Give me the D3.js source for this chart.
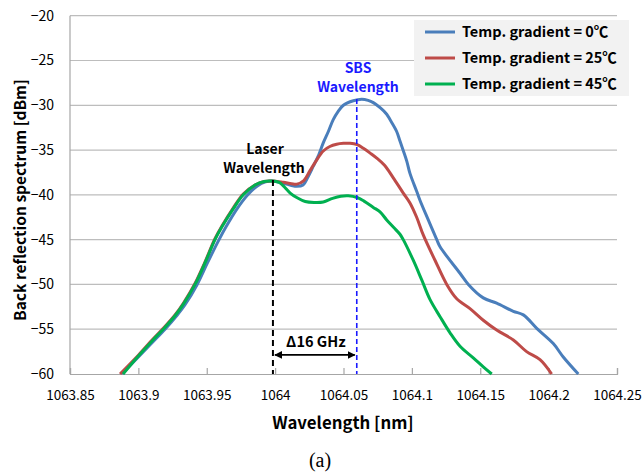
<!DOCTYPE html>
<html>
<head>
<meta charset="utf-8">
<script src="https://cdn.jsdelivr.net/npm/d3@7"></script>
<style>
  html, body { margin: 0; padding: 0; background: #fff; }
  svg { display: block; }
  text { font-family: "Noto Sans CJK KR", "Noto Sans", sans-serif; }
</style>
</head>
<body>
<svg id="chart" width="643" height="474"></svg>
<script>
// ---- data ----
const xTicks = [1063.85, 1063.9, 1063.95, 1064, 1064.05, 1064.1, 1064.15, 1064.2, 1064.25];
const yTicks = [-60, -55, -50, -45, -40, -35, -30, -25, -20];
const seriesNames = ["Temp. gradient = 0℃", "Temp. gradient = 25℃", "Temp. gradient = 45℃"];

const blueX = [1063.8880,1063.9000,1063.9107,1063.9195,1063.9280,1063.9340,1063.9430,1063.9505,1063.9590,1063.9640,1063.9720,1063.9800,1063.9870,1063.9930,1063.9977,1064.0060,1064.0120,1064.0158,1064.0204,1064.0240,1064.0279,1064.0320,1064.0352,1064.0390,1064.0425,1064.0460,1064.0499,1064.0572,1064.0633,1064.0680,1064.0718,1064.0770,1064.0816,1064.0840,1064.0888,1064.0913,1064.0962,1064.0986,1064.1035,1064.1059,1064.1120,1064.1182,1064.1206,1064.1352,1064.1413,1064.1522,1064.1620,1064.1742,1064.1815,1064.1913,1064.2034,1064.2107,1064.2217];
const blueY = [-60,-58.1,-56.4,-55.0,-53.5,-52.3,-50.0,-47.6,-45.0,-43.6,-41.6,-40.0,-39.0,-38.55,-38.45,-38.7,-38.95,-39.05,-38.9,-38.0,-36.8,-35.5,-34.2,-32.9,-31.6,-30.7,-30.0,-29.5,-29.33,-29.45,-29.7,-30.3,-31.0,-31.6,-32.9,-34.0,-36.2,-37.6,-39.6,-40.6,-42.8,-45.0,-45.8,-48.75,-50.0,-51.5,-52.1,-53.0,-53.4,-54.9,-56.6,-58.1,-60];

const redX = [1063.8866,1063.9000,1063.9107,1063.9182,1063.9268,1063.9329,1063.9414,1063.9487,1063.9560,1063.9610,1063.9692,1063.9767,1063.9853,1063.9920,1063.9977,1064.0060,1064.0120,1064.0158,1064.0210,1064.0255,1064.0300,1064.0352,1064.0400,1064.0450,1064.0500,1064.0548,1064.0600,1064.0645,1064.0700,1064.0743,1064.0800,1064.0864,1064.0937,1064.0986,1064.1035,1064.1084,1064.1169,1064.1255,1064.1328,1064.1425,1064.1522,1064.1620,1064.1742,1064.1839,1064.1937,1064.2022];
const redY = [-60,-57.9,-56.1,-54.9,-53.4,-52.1,-49.9,-47.5,-44.9,-43.5,-41.5,-39.9,-38.9,-38.5,-38.45,-38.6,-38.75,-38.8,-38.4,-37.3,-36.2,-35.1,-34.6,-34.35,-34.25,-34.24,-34.4,-34.8,-35.4,-35.9,-36.7,-38.1,-39.8,-40.9,-42.5,-44.5,-47.3,-50.0,-51.6,-52.7,-54.0,-55.1,-56.2,-57.5,-58.4,-60];

const greenX = [1063.8888,1063.9000,1063.9107,1063.9182,1063.9268,1063.9329,1063.9414,1063.9487,1063.9560,1063.9610,1063.9692,1063.9767,1063.9853,1063.9920,1063.9977,1064.0030,1064.0060,1064.0110,1064.0158,1064.0220,1064.0290,1064.0352,1064.0420,1064.0480,1064.0535,1064.0600,1064.0650,1064.0718,1064.0767,1064.0816,1064.0864,1064.0913,1064.0937,1064.1010,1064.1072,1064.1133,1064.1206,1064.1279,1064.1352,1064.1449,1064.1522,1064.1584];
const greenY = [-60,-58.0,-56.2,-55.0,-53.5,-52.2,-50.0,-47.6,-45.0,-43.6,-41.6,-40.0,-38.9,-38.5,-38.45,-38.6,-39.0,-39.8,-40.3,-40.75,-40.85,-40.8,-40.4,-40.15,-40.1,-40.3,-40.7,-41.4,-41.9,-42.8,-43.6,-44.4,-45.0,-47.3,-49.5,-51.7,-53.6,-55.4,-56.9,-58.2,-59.2,-60];

const laserLambda = 1063.9984, laserTop = -38.35;
const sbsLambda = 1064.0597, sbsTop = -29.3;
const arrowLevel = -57.87;

// ---- style ----
const colors = ["#4a7ebb", "#be4b48", "#00b050"];

const svg = d3.select("#chart");
const x = d3.scaleLinear().domain([1063.85, 1064.25]).range([70, 617]);
const y = d3.scaleLinear().domain([-60, -20]).range([374, 15.7]);

// gridlines
svg.append("g").selectAll("line").data(yTicks.filter(d => d !== -60)).join("line")
  .attr("x1", x.range()[0]).attr("x2", x.range()[1])
  .attr("y1", d => y(d)).attr("y2", d => y(d))
  .attr("stroke", "#bdbdbd").attr("stroke-width", 1.2);

// left axis line
svg.append("line").attr("x1", 70).attr("x2", 70).attr("y1", y(-20)).attr("y2", y(-60))
  .attr("stroke", "#a6a6a6").attr("stroke-width", 1.2);

// y axis labels
const yAxis = d3.axisLeft(y).tickValues(yTicks).tickSize(0).tickPadding(16).tickFormat(d3.format("d"));
const gy = svg.append("g").attr("transform", "translate(70,0)").call(yAxis);
gy.select(".domain").remove();
gy.selectAll("text").attr("font-size", 14).attr("fill", "#000")
  .style("font-family", '"Noto Sans CJK KR", sans-serif');

// x axis
const xAxis = d3.axisBottom(x).tickValues(xTicks).tickSize(-6).tickPadding(16).tickFormat(d => String(+d.toFixed(2)));
const gx = svg.append("g").attr("transform", `translate(0,${y(-60)})`).call(xAxis);
gx.select(".domain").attr("stroke", "#a6a6a6").attr("stroke-width", 1.2);
gx.selectAll(".tick line").attr("stroke", "#a6a6a6").attr("stroke-width", 1.2);
gx.selectAll("text").attr("font-size", 13.5).attr("fill", "#000")
  .style("font-family", '"Noto Sans CJK KR", sans-serif');

// series lines
const line = d3.line().x(d => x(d[0])).y(d => y(d[1])).curve(d3.curveCatmullRom.alpha(0.5));
const series = [
  d3.zip(blueX, blueY),
  d3.zip(redX, redY),
  d3.zip(greenX, greenY)
];
svg.append("g").selectAll("path").data(series).join("path")
  .attr("d", line).attr("fill", "none")
  .attr("stroke", (d, i) => colors[i]).attr("stroke-width", 3)
  .attr("stroke-linejoin", "round");

// dashed marker lines
svg.append("line").attr("x1", x(laserLambda)).attr("x2", x(laserLambda))
  .attr("y1", y(laserTop)).attr("y2", y(-60))
  .attr("stroke", "#000").attr("stroke-width", 2).attr("stroke-dasharray", "6,4");
svg.append("line").attr("x1", x(sbsLambda)).attr("x2", x(sbsLambda))
  .attr("y1", y(sbsTop)).attr("y2", y(-60))
  .attr("stroke", "#1a1aff").attr("stroke-width", 1.6).attr("stroke-dasharray", "5,3");

// arrow
const defs = svg.append("defs");
defs.append("marker").attr("id", "ah").attr("viewBox", "0 0 10 10").attr("refX", 9).attr("refY", 5)
  .attr("markerWidth", 5).attr("markerHeight", 5).attr("orient", "auto-start-reverse")
  .append("path").attr("d", "M0,0 L10,5 L0,10 z").attr("fill", "#000");
svg.append("line").attr("x1", x(laserLambda) + 2).attr("x2", x(sbsLambda) - 2)
  .attr("y1", y(arrowLevel)).attr("y2", y(arrowLevel))
  .attr("stroke", "#000").attr("stroke-width", 1.6)
  .attr("marker-start", "url(#ah)").attr("marker-end", "url(#ah)");
svg.append("text").attr("x", (x(laserLambda) + x(sbsLambda)) / 2 + 1).attr("y", y(arrowLevel) - 8)
  .attr("text-anchor", "middle").attr("font-size", 14.5).attr("font-weight", "bold").text("Δ16 GHz");

// annotations
const annot = svg.append("g").attr("font-weight", "bold").attr("font-size", 14).attr("text-anchor", "middle");
annot.append("text").attr("x", 265).attr("y", 154).text("Laser");
annot.append("text").attr("x", 264).attr("y", 173).text("Wavelength");
annot.append("text").attr("x", 358).attr("y", 73).attr("fill", "#1a1aff").text("SBS");
annot.append("text").attr("x", 358).attr("y", 92).attr("fill", "#1a1aff").text("Wavelength");

// legend
const lg = svg.append("g");
lg.append("rect").attr("x", 414).attr("y", 20).attr("width", 215).attr("height", 76).attr("fill", "#f2f2f2");
const rows = lg.selectAll("g.row").data(seriesNames).join("g").attr("class", "row")
  .attr("transform", (d, i) => `translate(0,${32 + i * 26})`);
rows.append("line").attr("x1", 425).attr("x2", 455).attr("y1", 0).attr("y2", 0)
  .attr("stroke", (d, i) => colors[i]).attr("stroke-width", 3);
rows.append("text").attr("x", 462).attr("y", 5).attr("font-size", 14.5).attr("font-weight", "bold").text(d => d);

// axis titles
svg.append("text").attr("x", 343).attr("y", 429).attr("text-anchor", "middle")
  .attr("font-size", 16.8).attr("font-weight", "bold").text("Wavelength [nm]");
svg.append("text").attr("transform", "translate(26,200) rotate(-90)").attr("text-anchor", "middle")
  .attr("font-size", 15.5).attr("font-weight", "bold").text("Back reflection spectrum [dBm]");
svg.append("text").attr("x", 320).attr("y", 467).attr("text-anchor", "middle")
  .attr("font-size", 20).style("font-family", '"Liberation Serif", "Times New Roman", serif').text("(a)");
</script>
</body>
</html>
